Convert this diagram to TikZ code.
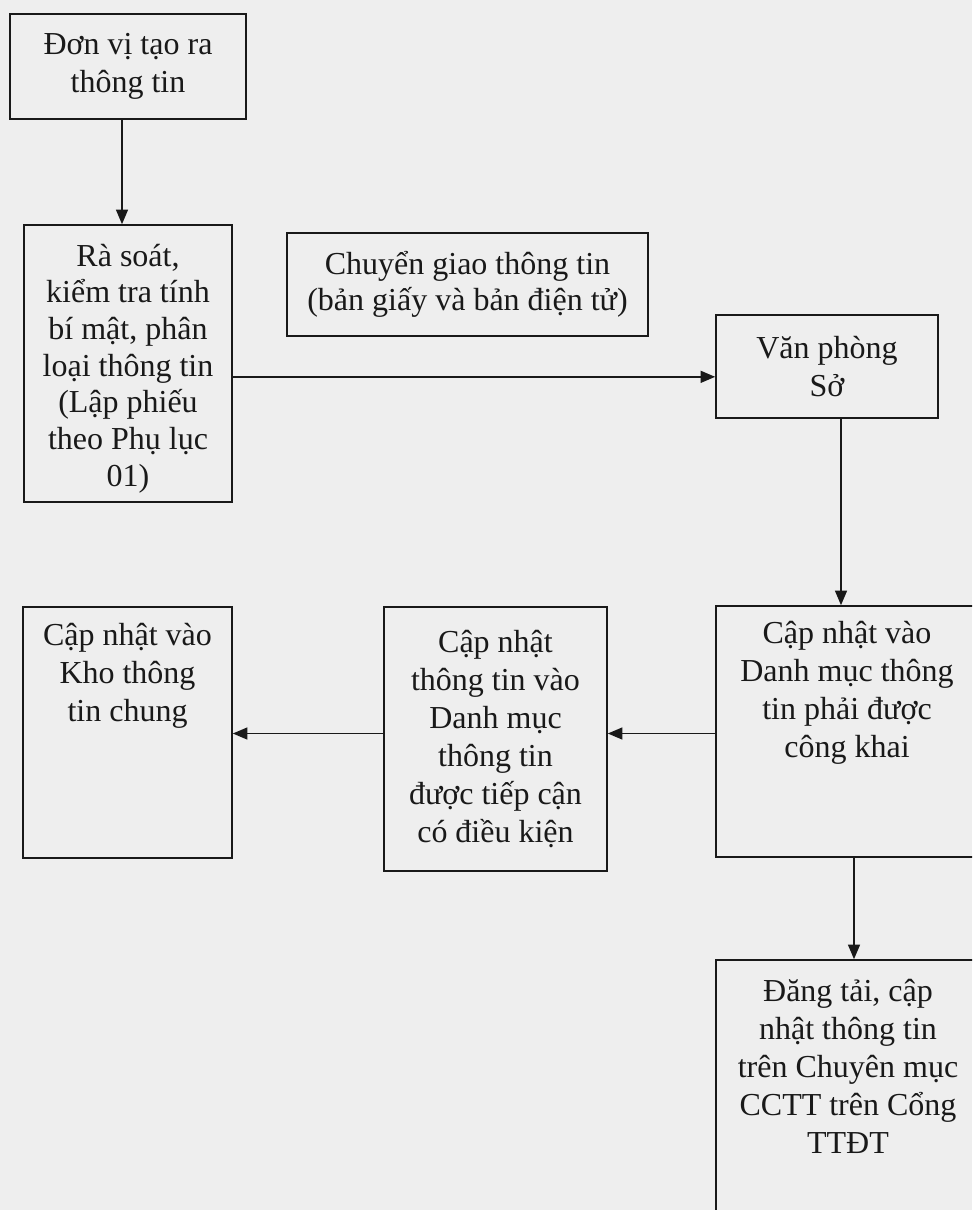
\documentclass[tikz,border=0pt]{standalone}
\usepackage{fontspec}
\setmainfont{Liberation Serif}
\usetikzlibrary{arrows.meta}
\definecolor{paper}{RGB}{238,238,238}
\definecolor{ink}{RGB}{25,25,25}
\tikzset{
  box/.style={draw=ink, line width=1.2pt, text=ink, align=center, inner sep=0pt,
    font=\fontsize{24}{28.5}\selectfont},
  arr/.style={draw=ink, line width=1.2pt, -{Triangle[length=11pt,width=9pt]}},
}
\begin{document}
\begin{tikzpicture}[x=0.75pt,y=-0.75pt]
\fill[paper] (0,0) rectangle (972,1210);
\useasboundingbox (0,0) rectangle (972,1210);
\clip (0,0) rectangle (972,1210);
% boxes
\node[box, minimum width=177pt, minimum height=78.75pt] (b1) at (128,66.5)
  {Đơn vị tạo ra\\thông tin};
\node[box, minimum width=156pt, minimum height=207.75pt,
  font=\fontsize{24}{27.5}\selectfont] (b2) at (128,363.5)
  {\rule{0pt}{24pt}Rà soát,\\kiểm tra tính\\bí mật, phân\\loại thông tin\\(Lập phiếu\\theo Phụ lục\\01)};
\node[box, minimum width=270.75pt, minimum height=77.25pt,
  font=\fontsize{24}{26.5}\selectfont] (lbl) at (467.5,284.5)
  {Chuyển giao thông tin\\(bản giấy và bản điện tử)};
\node[box, minimum width=166.5pt, minimum height=77.25pt] (b3) at (827,366.5)
  {Văn phòng\\Sở};
\node[box] (b4) at (847,731.5)
  {\parbox[c][188.25pt][t]{196.5pt}{\centering\rule{0pt}{27.75pt}Cập nhật vào\\Danh mục thông\\tin phải được\\công khai}};
\node[box, minimum width=167.25pt, minimum height=198pt] (b5) at (495.5,739)
  {Cập nhật\\thông tin vào\\Danh mục\\thông tin\\được tiếp cận\\có điều kiện};
\node[box] (b6) at (127.5,732.5)
  {\parbox[c][188.25pt][t]{156.75pt}{\centering\rule{0pt}{28.5pt}Cập nhật vào\\Kho thông\\tin chung}};
\node[box] (b7) at (848,1100)
  {\parbox[c][210pt][t]{198pt}{\centering\rule{0pt}{31pt}Đăng tải, cập\\nhật thông tin\\trên Chuyên mục\\CCTT trên Cổng\\TTĐT}};
% connectors
\draw[arr] ([xshift=-4.5pt]b1.south) -- ([xshift=-4.5pt]b2.north);
\draw[arr] ([yshift=-10pt]b2.east) -- ([yshift=-10pt]b2.east -| b3.west);
\draw[arr] ([xshift=10.5pt]b3.south) -- ([xshift=10.5pt]b3.south |- b4.north);
\draw[arr] ([yshift=-1.5pt]b4.west) -- ([yshift=-1.5pt]b4.west -| b5.east);
\draw[arr] ([yshift=-1.5pt]b4.west -| b5.west) -- ([yshift=-1.5pt]b4.west -| b6.east);
\draw[arr] ([xshift=5.25pt]b4.south) -- ([xshift=5.25pt]b4.south |- b7.north);
\end{tikzpicture}
\end{document}
